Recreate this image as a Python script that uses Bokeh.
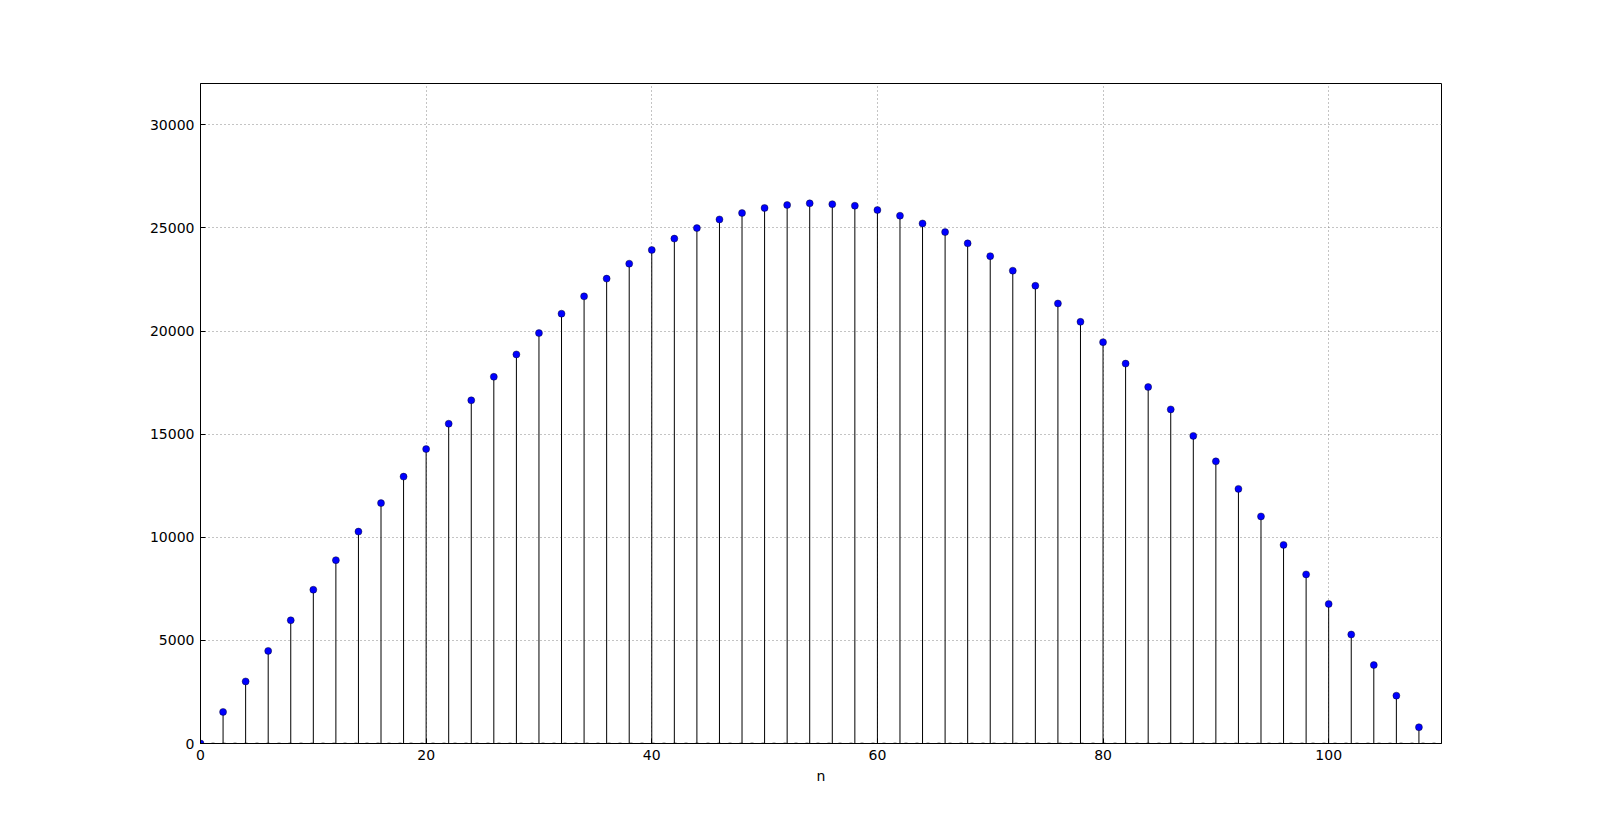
from bokeh.plotting import figure
from bokeh.embed import file_html
from bokeh.resources import INLINE
from bokeh.models import ColumnDataSource, FixedTicker, Range1d

n = list(range(0, 110, 2))
values = [0, 1530, 3010, 4490, 5975, 7455, 8890, 10275, 11655, 12940,
          14275, 15505, 16640, 17780, 18865, 19900, 20840, 21680, 22540, 23265,
          23930, 24480, 24990, 25410, 25720, 25965, 26110, 26190, 26150, 26075,
          25865, 25590, 25215, 24795, 24250, 23630, 22925, 22195, 21335, 20445,
          19460, 18420, 17285, 16200, 14915, 13680, 12345, 11010, 9630, 8200,
          6765, 5285, 3805, 2320, 790]
x_ticks = [0, 20, 40, 60, 80, 100]
y_ticks = [0, 5000, 10000, 15000, 20000, 25000, 30000]
x_label = "n"

src = ColumnDataSource(dict(n=n, v=values, base=[0] * len(n)))

p = figure(output_backend="svg", toolbar_location=None,
           frame_width=1241, frame_height=660,
           min_border_left=200, min_border_top=83, min_border_right=130,
           min_border_bottom=70,
           x_range=Range1d(0, 110), y_range=Range1d(0, 32000))
p.background_fill_color = "white"
p.border_fill_color = "white"
p.outline_line_color = "black"
p.outline_line_width = 1

# stems
p.segment(x0="n", y0="base", x1="n", y1="v", source=src, line_color="black", line_width=1)
# baseline
p.line(x=[0, 110], y=[0, 0], line_color="black", line_width=1.5, line_dash="3 8")
# markers
p.scatter(x="n", y="v", source=src, size=7, fill_color="#0000ff",
          line_color="black", line_width=0.4)

for ax in (p.xaxis[0], p.yaxis[0]):
    ax.major_tick_in = 5
    ax.major_tick_out = 0
    ax.minor_tick_in = 0
    ax.minor_tick_out = 0
    ax.axis_line_color = "black"
    ax.major_tick_line_color = "black"
    ax.major_label_text_font = "DejaVu Sans"
    ax.major_label_text_font_size = "14px"
    ax.major_label_text_color = "black"

p.xaxis.ticker = FixedTicker(ticks=x_ticks)
p.yaxis.ticker = FixedTicker(ticks=y_ticks)
p.xaxis.axis_label = x_label
p.xaxis.axis_label_text_font = "DejaVu Sans"
p.xaxis.axis_label_text_font_size = "14px"
p.xaxis.axis_label_text_font_style = "normal"
p.xaxis.axis_label_text_color = "black"
p.xaxis.axis_label_standoff = 5
p.xaxis.major_label_standoff = 6
p.yaxis.major_label_standoff = 6

p.xgrid.grid_line_color = "#888888"
p.ygrid.grid_line_color = "#888888"
p.xgrid.grid_line_dash = "1 3"
p.ygrid.grid_line_dash = "1 3"
p.xgrid.grid_line_width = 1
p.ygrid.grid_line_width = 1

open("out.html", "w").write(file_html(p, INLINE))
